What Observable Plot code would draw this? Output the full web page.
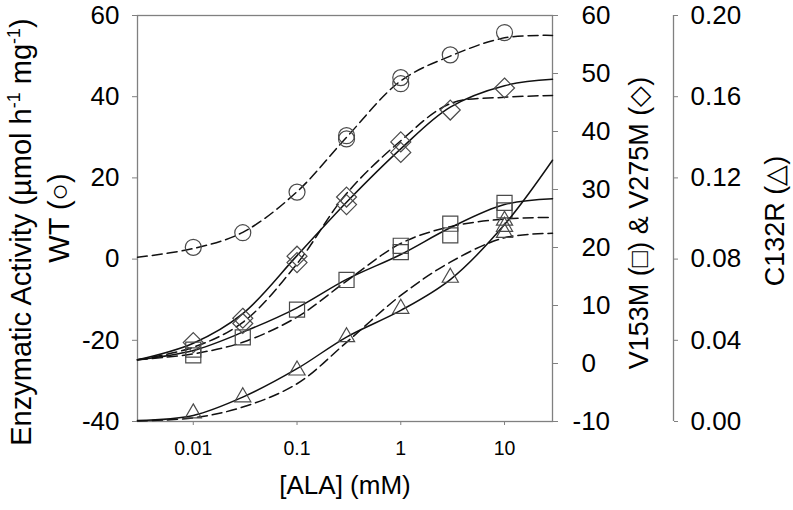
<!DOCTYPE html>
<html><head><meta charset="utf-8">
<script src="https://cdn.jsdelivr.net/npm/d3@7"></script>
<script src="https://cdn.jsdelivr.net/npm/@observablehq/plot@0.6"></script>
<style>
html,body{margin:0;padding:0;background:#fff;}
#chart{position:relative;width:793px;height:510px;background:#fff;}
#chart svg{position:absolute;left:0;top:0;}
</style></head><body><div id="chart"></div>
<script>
// ---- data ----
const wtConc = [0.01, 0.03, 0.1, 0.3, 0.3, 1, 1, 3, 10];
const wtActivity = [2.9, 6.5, 16.5, 29.6, 30.4, 43.2, 44.7, 50.3, 55.8];
const v275Conc = [0.01, 0.03, 0.03, 0.1, 0.1, 0.3, 0.3, 1, 1, 3, 10];
const v275Activity = [3.6, 7.8, 6.9, 18.5, 17.4, 28.7, 27.4, 38.2, 36.4, 43.7, 47.5];
const v153Conc = [0.01, 0.01, 0.03, 0.1, 0.3, 1, 1, 3, 3, 10, 10];
const v153Activity = [2.4, 1.4, 4.5, 9.3, 14.4, 20.3, 19.2, 24.1, 22.1, 27.7, 26.4];
const c132Conc = [0.01, 0.03, 0.1, 0.3, 1, 3, 10, 10, 10];
const c132Activity = [0.0041, 0.012, 0.0252, 0.0416, 0.0556, 0.0709, 0.093, 0.096, 0.099];

const fitConc = [0.0029, 0.01, 0.03, 0.1, 0.3, 1, 3, 10, 29];
const wtFit = [0.45, 2.6, 6.6, 16.6, 30.0, 43.9, 50.0, 54.5, 55.1];
const v275FitSolid = [0.63, 3.5, 8.6, 18.6, 27.8, 37.0, 44.2, 47.9, 49.0];
const v275FitDashed = [0.63, 2.8, 7.1, 17.2, 29.3, 38.4, 44.8, 45.9, 46.2];
const v153FitSolid = [0.63, 2.24, 5.4, 9.6, 14.5, 18.8, 23.4, 27.4, 28.4];
const v153FitDashed = [0.63, 1.67, 3.67, 8.0, 14.2, 20.7, 23.6, 24.9, 25.2];
const c132FitSolid = [0.0005, 0.003, 0.012, 0.026, 0.0416, 0.0547, 0.0699, 0.097, 0.1287];
const c132FitDashed = [0.0003, 0.0018, 0.0071, 0.0186, 0.039, 0.0621, 0.0785, 0.0905, 0.0927];

const xTicks = [0.01, 0.1, 1, 10];
const wtTicks = [-40, -20, 0, 20, 40, 60];
const vTicks = [-10, 0, 10, 20, 30, 40, 50, 60];
const cTicks = [0, 0.04, 0.08, 0.12, 0.16, 0.2];

// ---- helpers ----
const pts = (xs, ys) => xs.map((x, i) => ({x, y: ys[i]}));
const FONT = "'Liberation Sans', Arial, sans-serif";
const AX = "#808080", LINE = "#111", MK = "#4a4a4a";
const DASH = "10,5";
const layout = {width: 793, height: 510, marginLeft: 137, marginRight: 241, marginTop: 15, marginBottom: 89};
const xScale = {type: "log", domain: [0.0029, 29], axis: null};
function make(yDomain, marks) {
  return Plot.plot({...layout, x: xScale, y: {domain: yDomain, axis: null},
    style: {fontFamily: FONT, background: "transparent", color: "#000", overflow: "visible"}, marks});
}
const lineOpts = (dashed) => ({x: "x", y: "y", curve: "catmull-rom", stroke: LINE, strokeWidth: 1.5, strokeDasharray: dashed ? DASH : null});

// ---- WT plot (left axis) ----
const p1 = make([-40, 60], [
  Plot.frame({stroke: AX, strokeWidth: 1.3}),
  Plot.axisY({anchor: "left", ticks: wtTicks, tickFormat: d => String(d), tickSize: 5, tickPadding: 13, fontSize: 26, stroke: AX, fill: "#000", label: null}),
  Plot.axisX({anchor: "bottom", ticks: xTicks, tickFormat: d => String(d), tickSize: 4, tickPadding: 16, fontSize: 19.5, stroke: AX, fill: "#000", label: null}),
  Plot.line(pts(fitConc, wtFit), lineOpts(true)),
  Plot.dot(pts(wtConc, wtActivity), {x: "x", y: "y", symbol: "circle", r: 8, stroke: MK, strokeWidth: 1.2, fill: "none"})
]);

// ---- V153M & V275M plot (first right axis) ----
const p2 = make([-10, 60], [
  Plot.axisY({anchor: "right", ticks: vTicks.filter(d => d >= 0), tickFormat: d => String(d), tickSize: 5, tickPadding: 24, fontSize: 26, stroke: AX, fill: "#000", label: null}),
  Plot.axisY({anchor: "right", ticks: vTicks.filter(d => d < 0), tickFormat: d => String(d), tickSize: 5, tickPadding: 15, fontSize: 26, stroke: AX, fill: "#000", label: null}),
  Plot.line(pts(fitConc, v275FitSolid), lineOpts(false)),
  Plot.line(pts(fitConc, v275FitDashed), lineOpts(true)),
  Plot.line(pts(fitConc, v153FitSolid), lineOpts(false)),
  Plot.line(pts(fitConc, v153FitDashed), lineOpts(true)),
  Plot.dot(pts(v275Conc, v275Activity), {x: "x", y: "y", symbol: "diamond2", r: 9, stroke: MK, strokeWidth: 1.2, fill: "none"}),
  Plot.dot(pts(v153Conc, v153Activity), {x: "x", y: "y", symbol: "square", r: 8.5, stroke: MK, strokeWidth: 1.2, fill: "none"})
]);

// ---- C132R plot (second right axis) ----
const p3 = make([0, 0.2], [
  Plot.ruleX([29], {dx: 121, stroke: AX, strokeWidth: 1.3}),
  Plot.axisY({anchor: "right", ticks: cTicks, tickFormat: d => d.toFixed(2), tickSize: 4, tickPadding: 13, dx: 121, fontSize: 26, stroke: AX, fill: "#000", label: null}),
  Plot.line(pts(fitConc, c132FitSolid), lineOpts(false)),
  Plot.line(pts(fitConc, c132FitDashed), lineOpts(true)),
  Plot.dot(pts(c132Conc, c132Activity), {x: "x", y: "y", symbol: "triangle", r: 6, stroke: MK, strokeWidth: 1.2, fill: "none"})
]);

const chart = document.getElementById("chart");
chart.append(p1, p2, p3);

// ---- axis titles ----
const s1 = d3.select(p1);
const t1 = s1.append("text").attr("transform", "translate(31,232) rotate(-90)")
  .attr("text-anchor", "middle").attr("font-size", 29).attr("font-family", FONT).attr("fill", "#000");
t1.append("tspan").text("Enzymatic Activity (\u00b5mol h");
t1.append("tspan").attr("dy", -11).attr("font-size", 18).text("-1");
t1.append("tspan").attr("dy", 11).text(" mg");
t1.append("tspan").attr("dy", -11).attr("font-size", 18).text("-1");
t1.append("tspan").attr("dy", 11).text(")");
s1.append("text").attr("transform", "translate(69,218) rotate(-90)")
  .attr("text-anchor", "middle").attr("font-size", 29).attr("font-family", FONT).attr("fill", "#000")
  .text("WT (\u25cb)");
s1.append("text").attr("x", 345).attr("y", 494)
  .attr("text-anchor", "middle").attr("font-size", 26).attr("font-family", FONT).attr("fill", "#000")
  .text("[ALA] (mM)");
d3.select(p2).append("text").attr("transform", "translate(648,223) rotate(-90)")
  .attr("text-anchor", "middle").attr("font-size", 27).attr("font-family", FONT).attr("fill", "#000")
  .text("V153M (\u25a1) & V275M (\u25c7)");
d3.select(p3).append("text").attr("transform", "translate(784,221) rotate(-90)")
  .attr("text-anchor", "middle").attr("font-size", 27).attr("font-family", FONT).attr("fill", "#000")
  .text("C132R (\u25b3)");
</script></body></html>
